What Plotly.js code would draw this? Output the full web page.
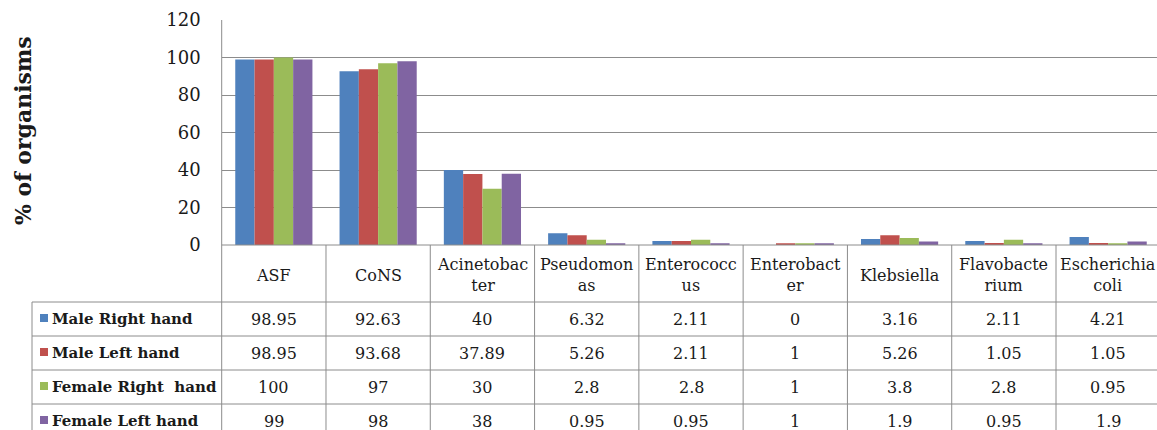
<!DOCTYPE html>
<html><head><meta charset="utf-8">
<script src="https://cdn.plot.ly/plotly-3.0.1.min.js"></script>
<style>html,body{margin:0;padding:0;overflow:hidden;background:#fff}#chart{width:1165px;height:430px}</style>
</head><body><div id="chart"></div><script>
const categories = ["ASF","CoNS","Acinetobacter","Pseudomonas","Enterococcus","Enterobacter","Klebsiella","Flavobacterium","Escherichia coli"];
const tickLabels = ["ASF","CoNS","Acinetobac<br>ter","Pseudomon<br>as","Enterococc<br>us","Enterobact<br>er","Klebsiella","Flavobacte<br>rium","Escherichia<br>coli"];
const seriesNames = ["Male Right hand","Male Left hand","Female Right  hand","Female Left hand"];
const maleRight   = [98.95, 92.63, 40,    6.32, 2.11, 0, 3.16, 2.11, 4.21];
const maleLeft    = [98.95, 93.68, 37.89, 5.26, 2.11, 1, 5.26, 1.05, 1.05];
const femaleRight = [100,   97,    30,    2.8,  2.8,  1, 3.8,  2.8,  0.95];
const femaleLeft  = [99,    98,    38,    0.95, 0.95, 1, 1.9,  0.95, 1.9];
const colors = ["#4F81BD","#C0504D","#9BBB59","#8064A2"];
const yTitle = "% of organisms";

const series = [maleRight, maleLeft, femaleRight, femaleLeft];
const W = 1165, H = 430;
const px = x => x / W;
const py = y => 1 - y / H;
const SERIF = "DejaVu Serif, Liberation Serif, serif";
const LINE = "#8c8c8c";
const TXT = "#1a1a1a";

const xIdx = categories.map((c, i) => i);
const traces = series.map((vals, s) => ({
  type: "bar", x: xIdx, y: vals, name: seriesNames[s],
  marker: {color: colors[s]}, hoverinfo: "skip"
}));

const shapes = [];
const annotations = [];
const hline = (y, x0, x1) => shapes.push({type:"line", xref:"paper", yref:"paper", x0:px(x0), x1:px(x1), y0:py(y), y1:py(y), line:{color:LINE, width:1}});
const vlineP = (x, y0, y1) => shapes.push({type:"line", xref:"paper", yref:"paper", x0:px(x), x1:px(x), y0:py(y0), y1:py(y1), line:{color:LINE, width:1}});

// plot area / table frame
hline(245, 221.7, W);
vlineP(221.7, 20, H);
vlineP(32, 302, H);
[302, 336, 370, 404].forEach(y => hline(y, 32, W));
for (let i = 0; i < categories.length; i++) {
  shapes.push({type:"line", xref:"x", yref:"paper", x0:i+0.5, x1:i+0.5, y0:py(245), y1:0, line:{color:LINE, width:1}});
}

// header row
tickLabels.forEach((t, i) => annotations.push({
  x: i, xref:"x", y: py(275), yref:"paper", text: t, showarrow:false,
  xanchor:"center", yanchor:"middle", align:"center",
  font:{family:SERIF, size:16, color:TXT}
}));

// data rows
series.forEach((vals, s) => {
  const cy = 319 + 34 * s;
  shapes.push({type:"rect", xref:"paper", yref:"paper", x0:px(40), x1:px(48), y0:py(cy+3), y1:py(cy-5), fillcolor:colors[s], line:{width:0}});
  annotations.push({x:px(50), xref:"paper", y:py(cy), yref:"paper", text:seriesNames[s].replace("  "," &nbsp;"), showarrow:false,
    xanchor:"left", yanchor:"middle", font:{family:SERIF, size:15, color:TXT, weight:"bold"}});
  vals.forEach((v, i) => annotations.push({
    x:i, xref:"x", y:py(cy), yref:"paper", text:String(v), showarrow:false,
    xanchor:"center", yanchor:"middle", font:{family:SERIF, size:16, color:TXT}
  }));
});

// y title
annotations.push({x:px(23), xref:"paper", y:py(131), yref:"paper", text:yTitle, textangle:-90, showarrow:false,
  xanchor:"center", yanchor:"middle", font:{family:SERIF, size:22, color:TXT, weight:"bold"}});

const layout = {
  width: W, height: H, margin:{l:0, r:0, t:0, b:0},
  paper_bgcolor:"#fff", plot_bgcolor:"#fff",
  barmode:"group", bargap:0.26, bargroupgap:0, showlegend:false,
  xaxis:{domain:[px(221.7), px(1160.3)], range:[-0.5, 8.5], showticklabels:false, showgrid:false, zeroline:false, showline:false, fixedrange:true},
  yaxis:{domain:[py(245), py(20)], range:[0, 120], dtick:20, tick0:0, showgrid:true, gridcolor:LINE, gridwidth:1, zeroline:false, showline:false,
    ticks:"", ticklabelstandoff:20, tickfont:{family:SERIF, size:18, color:TXT}, fixedrange:true},
  shapes, annotations
};
Plotly.newPlot("chart", traces, layout, {displayModeBar:false, staticPlot:true});
</script></body></html>
